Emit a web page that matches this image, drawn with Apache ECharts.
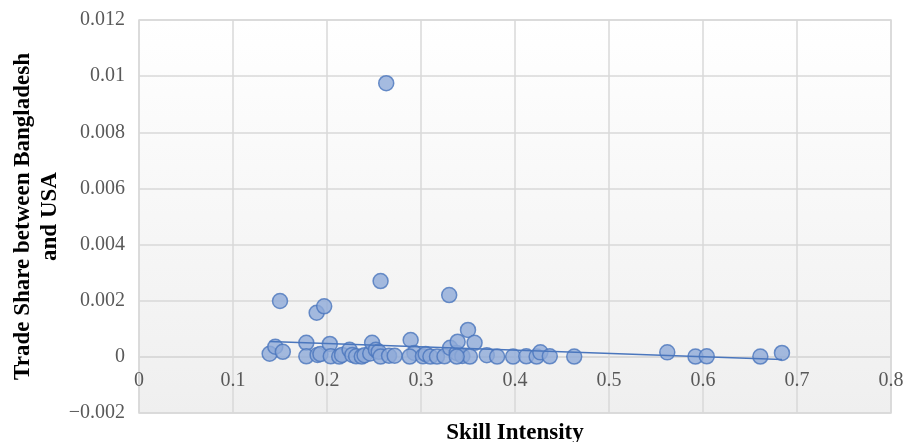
<!DOCTYPE html>
<html>
<head>
<meta charset="utf-8">
<script src="https://cdn.jsdelivr.net/npm/echarts@6/dist/echarts.min.js"></script>
<style>
html,body{margin:0;padding:0;background:#fff;}
#chart{width:904px;height:442px;}
</style>
</head>
<body>
<div id="chart"></div>
<script>
// Skill intensity (x) and trade share between Bangladesh and USA (y)
const skillIntensity = [
  0.139, 0.145, 0.153, 0.150, 0.178, 0.178, 0.189, 0.197, 0.190, 0.193,
  0.203, 0.204, 0.213, 0.216, 0.224, 0.227, 0.231, 0.237, 0.240, 0.246,
  0.248, 0.252, 0.255, 0.257, 0.263, 0.257, 0.266, 0.272, 0.289, 0.293,
  0.288, 0.302, 0.305, 0.310, 0.317, 0.325, 0.330, 0.331, 0.338, 0.339,
  0.344, 0.350, 0.357, 0.352, 0.338, 0.370, 0.381, 0.398, 0.412, 0.423,
  0.427, 0.437, 0.463, 0.562, 0.592, 0.604, 0.661, 0.684
];
const tradeShare = [
  0.00011, 0.00036, 0.00018, 0.00199, 0.00050, 0.00002, 0.00157, 0.00180, 0.00007, 0.00010,
  0.00046, 0.00002, 0.00001, 0.00007, 0.00025, 0.00007, 0.00002, 0.00001, 0.00006, 0.00012,
  0.00050, 0.00025, 0.00018, 0.00001, 0.00975, 0.00270, 0.00004, 0.00004, 0.00060, 0.00014,
  0.00001, 0.00002, 0.00010, 0.00001, 0.00001, 0.00002, 0.00220, 0.00032, 0.00014, 0.00054,
  0.00003, 0.00096, 0.00050, 0.00001, 0.00001, 0.00006, 0.00001, 0.00001, 0.00002, 0.00001,
  0.00016, 0.00002, 0.00001, 0.00016, 0.00001, 0.00002, 0.00001, 0.00014
];
// Linear trend line end points
const trendX = [0.139, 0.684];
const trendY = [0.00055, -0.00009];

const xTicks = {min: 0, max: 0.8, interval: 0.1};
const yTicks = {min: -0.002, max: 0.012, interval: 0.002};

const points = skillIntensity.map((x, i) => [x, tradeShare[i]]);
const trend = trendX.map((x, i) => [x, trendY[i]]);

const font = 'Liberation Serif, "Times New Roman", serif';
const chart = echarts.init(document.getElementById('chart'), null, {renderer: 'canvas'});

function fmt(v) {
  const r = parseFloat(v.toFixed(4));
  if (r < 0) return '\u2212' + String(Math.abs(r));
  return String(r);
}

const gridTop = 20, gridBottom = 29, H = 442;
const plotH = H - gridTop - gridBottom;
// place the horizontal axis on the zero line of the vertical axis
const zeroOffset = -plotH * (0 - yTicks.min) / (yTicks.max - yTicks.min);

chart.setOption({
  animation: false,
  backgroundColor: '#ffffff',
  grid: {
    left: 139, right: 13, top: gridTop, bottom: gridBottom,
    containLabel: false,
    outerBoundsMode: 'none',
    show: true,
    borderColor: '#d9d9d9',
    borderWidth: 1.5,
    backgroundColor: new echarts.graphic.LinearGradient(0, 0, 0, 1, [
      {offset: 0, color: '#ffffff'},
      {offset: 1, color: '#efefef'}
    ])
  },
  xAxis: {
    type: 'value',
    min: xTicks.min, max: xTicks.max, interval: xTicks.interval,
    offset: zeroOffset,
    name: 'Skill Intensity',
    nameLocation: 'middle',
    nameGap: 65,
    nameMoveOverlap: false,
    nameTextStyle: {fontFamily: font, fontSize: 23, fontWeight: 'bold', color: '#000'},
    axisLine: {show: true, onZero: false, lineStyle: {color: '#d9d9d9', width: 1.5}},
    axisTick: {show: false},
    axisLabel: {fontFamily: font, fontSize: 20, color: '#595959', margin: 14, formatter: fmt},
    splitLine: {show: true, lineStyle: {color: '#d9d9d9', width: 1.5}}
  },
  yAxis: {
    type: 'value',
    min: yTicks.min, max: yTicks.max, interval: yTicks.interval,
    name: 'Trade Share between Bangladesh\nand USA',
    nameLocation: 'middle',
    nameGap: 75,
    nameMoveOverlap: false,
    nameTextStyle: {fontFamily: font, fontSize: 23, fontWeight: 'bold', color: '#000', lineHeight: 27, align: 'center'},
    axisLine: {show: false},
    axisTick: {show: false},
    axisLabel: {fontFamily: font, fontSize: 20, color: '#595959', margin: 14, formatter: fmt},
    splitLine: {show: true, lineStyle: {color: '#d9d9d9', width: 1.5}}
  },
  series: [
    {
      type: 'line',
      data: trend,
      showSymbol: false,
      symbol: 'none',
      lineStyle: {color: '#4a76bd', width: 1.5},
      z: 3
    },
    {
      type: 'scatter',
      data: points,
      symbol: 'circle',
      symbolSize: 15,
      itemStyle: {color: '#8eaad8', borderColor: '#4a76bd', borderWidth: 1.5},
      z: 2
    }
  ]
});
</script>
</body>
</html>
